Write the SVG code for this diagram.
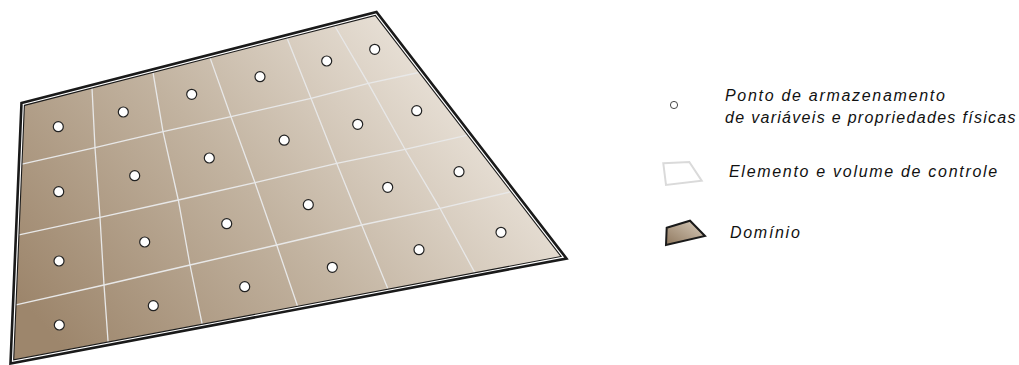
<svg xmlns="http://www.w3.org/2000/svg" width="1019" height="365" viewBox="0 0 1019 365">
<defs>
<linearGradient id="dom" gradientUnits="userSpaceOnUse" x1="60" y1="345" x2="430" y2="30">
<stop offset="0" stop-color="#9d866c"/>
<stop offset="0.5" stop-color="#c2b3a0"/>
<stop offset="1" stop-color="#ebe4db"/>
</linearGradient>
<linearGradient id="domIcon" x1="0" y1="1" x2="1" y2="0">
<stop offset="0" stop-color="#8f785e"/>
<stop offset="1" stop-color="#d9cdbd"/>
</linearGradient>
<style>
.grid{fill:none;stroke:#e8e8e8;stroke-width:1.3}
.pt{fill:#fff;stroke:#222;stroke-width:1.2}
.lbl{font-family:"Liberation Sans",Arial,sans-serif;font-style:italic;font-size:16px;letter-spacing:1.7px;fill:#111}
</style>
</defs>
<rect width="1019" height="365" fill="#fff"/>
<g id="domain">
<polygon points="21.5,103 376.5,12 566.5,258.5 10.5,363.5" fill="#fff" stroke="#1a1a1a" stroke-width="2.6" stroke-linejoin="miter"/>
<polygon points="24.4,105.35 375.3,15.4 561.1,256.5 13.7,359.85" fill="url(#dom)"/>
</g>
<g id="grid">
<polyline class="grid" points="92,88 95,147.7 100,217.3 104,285 108.1,342"/>
<polyline class="grid" points="153,72.4 163,131.7 178.3,200 190,265 202.2,324.3"/>
<polyline class="grid" points="210,57.6 231,116.7 255,182.7 276.7,245 297.6,306.2"/>
<polyline class="grid" points="287,38 311,98.3 336.7,163.3 361.7,225 387.8,288.5"/>
<polyline class="grid" points="334.5,25.5 368.3,83.3 405,149.3 440,208.3 474.8,272.6"/>
<polyline class="grid" points="22,164.2 95,147.7 163,131.7 231,116.7 311,98.3 368.3,83.3 418.8,72.5"/>
<polyline class="grid" points="19,234.9 100,217.3 178.3,200 255,182.7 336.7,163.3 405,149.3 467.5,135.1"/>
<polyline class="grid" points="16,304.8 104,285 190,265 276.7,245 361.7,225 440,208.3 511.2,191.7"/>
</g>
<g id="domain-border">
<polygon points="24.4,105.35 375.3,15.4 561.1,256.5 13.7,359.85" fill="none" stroke="#1a1a1a" stroke-width="1.1"/>
</g>
<g id="points">
<circle class="pt" cx="58.3" cy="126.7" r="5"/>
<circle class="pt" cx="123.3" cy="112" r="5"/>
<circle class="pt" cx="191.7" cy="94.3" r="5"/>
<circle class="pt" cx="260" cy="76.7" r="5"/>
<circle class="pt" cx="326.7" cy="61" r="5"/>
<circle class="pt" cx="374.7" cy="49.3" r="5"/>
<circle class="pt" cx="58.7" cy="191.7" r="5"/>
<circle class="pt" cx="134.7" cy="175.7" r="5"/>
<circle class="pt" cx="209.3" cy="158" r="5"/>
<circle class="pt" cx="284.2" cy="140.2" r="5"/>
<circle class="pt" cx="357.7" cy="124.3" r="5"/>
<circle class="pt" cx="416.7" cy="110.7" r="5"/>
<circle class="pt" cx="59" cy="261" r="5"/>
<circle class="pt" cx="144.7" cy="242" r="5"/>
<circle class="pt" cx="226.7" cy="223.7" r="5"/>
<circle class="pt" cx="308.3" cy="204.7" r="5"/>
<circle class="pt" cx="387.7" cy="187.3" r="5"/>
<circle class="pt" cx="459" cy="171.7" r="5"/>
<circle class="pt" cx="59.3" cy="325" r="5"/>
<circle class="pt" cx="153.3" cy="305.7" r="5"/>
<circle class="pt" cx="244.7" cy="286.7" r="5"/>
<circle class="pt" cx="332.3" cy="267.3" r="5"/>
<circle class="pt" cx="419" cy="249.7" r="5"/>
<circle class="pt" cx="501" cy="232.3" r="5"/>
</g>
<g id="legend-point">
<circle cx="674" cy="105" r="3.6" fill="#fff" stroke="#333" stroke-width="0.9"/>
<text class="lbl" x="725" y="100.5">Ponto de armazenamento</text>
<text class="lbl" x="725" y="123" style="letter-spacing:1.3px">de variáveis e propriedades físicas</text>
</g>
<g id="legend-element">
<polygon points="663.3,163.3 689.3,162 701.7,180.7 666,185" fill="none" stroke="#dadada" stroke-width="2"/>
<text class="lbl" x="729" y="177">Elemento e volume de controle</text>
</g>
<g id="legend-domain">
<polygon points="666.7,227.7 690,220.7 705,236 666,245" fill="url(#domIcon)" stroke="#1a1a1a" stroke-width="2" stroke-linejoin="miter"/>
<text class="lbl" x="730" y="237.5">Domínio</text>
</g>
</svg>
